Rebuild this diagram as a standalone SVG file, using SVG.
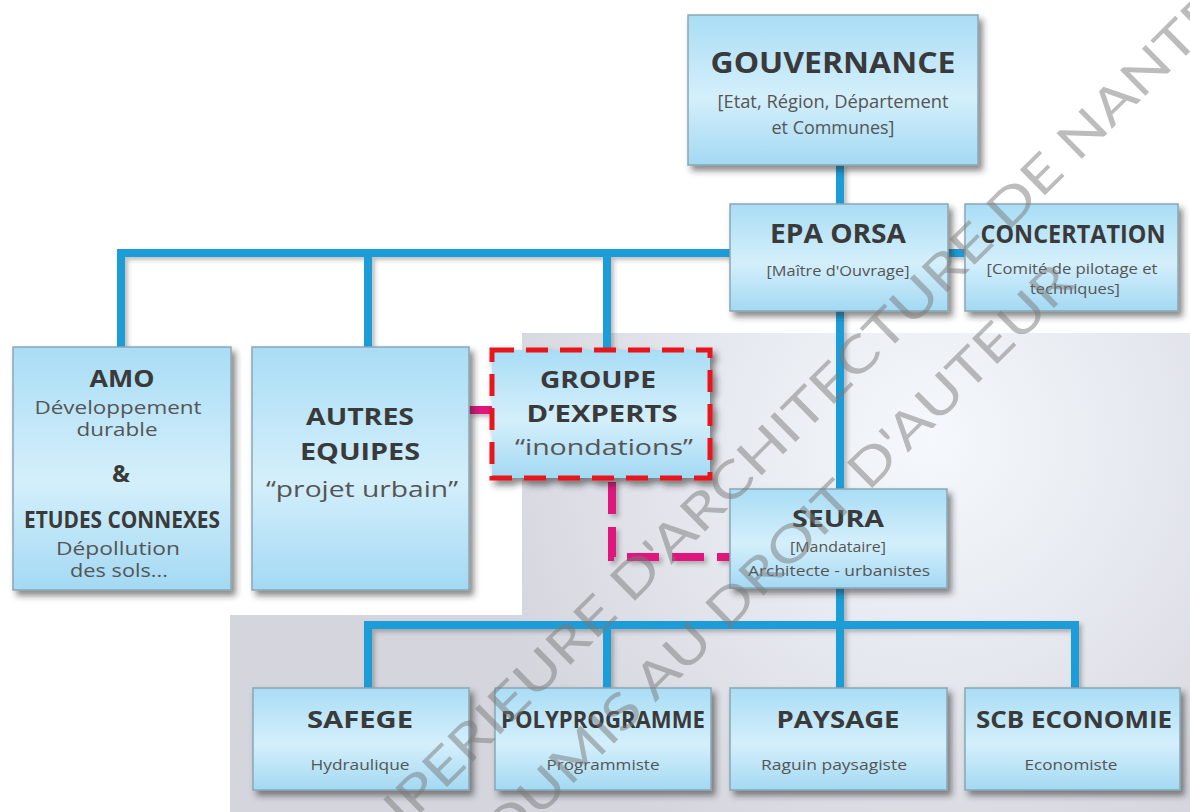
<svg xmlns="http://www.w3.org/2000/svg" width="1190" height="812" viewBox="0 0 1190 812">
<defs>
<linearGradient id="boxg" x1="0" y1="0" x2="0" y2="1">
<stop offset="0" stop-color="#a9ddf5"/>
<stop offset="0.55" stop-color="#d4effb"/>
<stop offset="1" stop-color="#a3d9f3"/>
</linearGradient>
<radialGradient id="bgg" gradientUnits="userSpaceOnUse" cx="930" cy="440" r="460">
<stop offset="0" stop-color="#f5f9fd"/>
<stop offset="0.5" stop-color="#e5e8ee"/>
<stop offset="1" stop-color="#d5d6dd"/>
</radialGradient>
<filter id="sh" x="-10%" y="-10%" width="130%" height="130%">
<feDropShadow dx="4" dy="5" stdDeviation="3" flood-color="#2a2a2a" flood-opacity="0.55"/>
</filter>
<filter id="lsh" x="-5%" y="-5%" width="110%" height="110%">
<feDropShadow dx="3" dy="3" stdDeviation="2" flood-color="#2a2a2a" flood-opacity="0.3"/>
</filter>
</defs>
<style>
.box{fill:url(#boxg);stroke:#8aa6b4;stroke-width:1.5;filter:url(#sh)}
.dash{fill:url(#boxg);stroke:#e8141c;stroke-width:5;stroke-dasharray:22 12;filter:url(#sh)}
.t{font-family:"Open Sans","DejaVu Sans",sans-serif;font-weight:bold;fill:#3a3a3a;text-anchor:middle}
.s{font-family:"Open Sans","DejaVu Sans",sans-serif;fill:#555;text-anchor:middle}
.blue{fill:none;stroke:#1c9dd8;stroke-width:8}
.mag{fill:none;stroke:#e0157f;stroke-width:8}
.wm{font-family:"Lato","Liberation Sans",sans-serif;font-weight:normal;fill:#7a7a7a;fill-opacity:0.5}
</style>
<rect width="1190" height="812" fill="#ffffff"/>
<path d="M522,333 H1190 V812 H230 V615 H522 Z" fill="url(#bgg)"/>

<g id="connectors" filter="url(#lsh)">
<path class="blue" d="M840,165 V204"/>
<path class="blue" d="M730,253 H121 V347 M368,253 V347 M607,253 V350"/>
<path class="blue" d="M948,253 H965"/>
<path class="blue" d="M840,311 V489"/>
<path class="blue" d="M840,588 V625 M368,688 V625 H1075 V688 M607,625 V688 M840,625 V688"/>
<path class="mag" d="M469,410 H492"/>
<path class="mag" d="M612,482 V557 H730" stroke-dasharray="32 13"/>
</g>

<g id="gouvernance">
<rect class="box" x="688" y="15" width="290" height="150"/>
<text class="t" x="833" y="73" font-size="29" textLength="245" lengthAdjust="spacingAndGlyphs">GOUVERNANCE</text>
<text class="s" x="833" y="108" font-size="18" textLength="231" lengthAdjust="spacingAndGlyphs">[Etat, Région, Département</text>
<text class="s" x="833" y="134" font-size="18" textLength="123" lengthAdjust="spacingAndGlyphs">et Communes]</text>
</g>

<g id="epa-orsa">
<rect class="box" x="730" y="204" width="218" height="107"/>
<text class="t" x="838" y="243" font-size="26" textLength="136" lengthAdjust="spacingAndGlyphs">EPA ORSA</text>
<text class="s" x="838" y="276" font-size="15" textLength="143" lengthAdjust="spacingAndGlyphs">[Maître d'Ouvrage]</text>
</g>

<g id="concertation">
<rect class="box" x="965" y="204" width="213" height="107"/>
<text class="t" x="1073" y="243" font-size="25" textLength="185" lengthAdjust="spacingAndGlyphs">CONCERTATION</text>
<text class="s" x="1072" y="274" font-size="15" textLength="171" lengthAdjust="spacingAndGlyphs">[Comité de pilotage et</text>
<text class="s" x="1075" y="294" font-size="15" textLength="90" lengthAdjust="spacingAndGlyphs">techniques]</text>
</g>

<g id="amo">
<rect class="box" x="13" y="347" width="218" height="243"/>
<text class="t" x="122" y="387" font-size="23" textLength="65" lengthAdjust="spacingAndGlyphs">AMO</text>
<text class="s" x="118" y="414" font-size="18" textLength="167" lengthAdjust="spacingAndGlyphs">Développement</text>
<text class="s" x="117" y="436" font-size="18" textLength="81" lengthAdjust="spacingAndGlyphs">durable</text>
<text class="t" x="121" y="482" font-size="24">&amp;</text>
<text class="t" x="122" y="528" font-size="23" textLength="196" lengthAdjust="spacingAndGlyphs">ETUDES CONNEXES</text>
<text class="s" x="118" y="555" font-size="18" textLength="124" lengthAdjust="spacingAndGlyphs">Dépollution</text>
<text class="s" x="119" y="577" font-size="18" textLength="98" lengthAdjust="spacingAndGlyphs">des sols...</text>
</g>

<g id="autres-equipes">
<rect class="box" x="252" y="347" width="217" height="243"/>
<text class="t" x="360" y="425" font-size="24" textLength="108" lengthAdjust="spacingAndGlyphs">AUTRES</text>
<text class="t" x="360" y="460" font-size="24" textLength="120" lengthAdjust="spacingAndGlyphs">EQUIPES</text>
<text class="s" x="362" y="497" font-size="22" textLength="192" lengthAdjust="spacingAndGlyphs">“projet urbain”</text>
</g>

<g id="groupe-experts">
<rect class="dash" x="492" y="350" width="218" height="128"/>
<text class="t" x="598" y="388" font-size="23" textLength="116" lengthAdjust="spacingAndGlyphs">GROUPE</text>
<text class="t" x="602" y="422" font-size="23" textLength="151" lengthAdjust="spacingAndGlyphs">D’EXPERTS</text>
<text class="s" x="604" y="455" font-size="22" textLength="178" lengthAdjust="spacingAndGlyphs">“inondations”</text>
</g>

<g id="seura">
<rect class="box" x="730" y="489" width="217" height="99"/>
<text class="t" x="838" y="527" font-size="24" textLength="92" lengthAdjust="spacingAndGlyphs">SEURA</text>
<text class="s" x="838" y="552" font-size="14" textLength="96" lengthAdjust="spacingAndGlyphs">[Mandataire]</text>
<text class="s" x="839" y="576" font-size="14" textLength="182" lengthAdjust="spacingAndGlyphs">Architecte - urbanistes</text>
</g>

<g id="safege">
<rect class="box" x="253" y="688" width="216" height="102"/>
<text class="t" x="360" y="728" font-size="24" textLength="106" lengthAdjust="spacingAndGlyphs">SAFEGE</text>
<text class="s" x="360" y="770" font-size="15" textLength="99" lengthAdjust="spacingAndGlyphs">Hydraulique</text>
</g>

<g id="polyprogramme">
<rect class="box" x="495" y="688" width="216" height="102"/>
<text class="t" x="603" y="728" font-size="23" textLength="204" lengthAdjust="spacingAndGlyphs">POLYPROGRAMME</text>
<text class="s" x="603" y="770" font-size="15" textLength="113" lengthAdjust="spacingAndGlyphs">Programmiste</text>
</g>

<g id="paysage">
<rect class="box" x="730" y="688" width="217" height="102"/>
<text class="t" x="838" y="728" font-size="24" textLength="123" lengthAdjust="spacingAndGlyphs">PAYSAGE</text>
<text class="s" x="834" y="770" font-size="15" textLength="146" lengthAdjust="spacingAndGlyphs">Raguin paysagiste</text>
</g>

<g id="scb-economie">
<rect class="box" x="965" y="688" width="215" height="102"/>
<text class="t" x="1074" y="728" font-size="24" textLength="196" lengthAdjust="spacingAndGlyphs">SCB ECONOMIE</text>
<text class="s" x="1071" y="770" font-size="15" textLength="93" lengthAdjust="spacingAndGlyphs">Economiste</text>
</g>

<g id="watermark">
<text class="wm" x="360" y="873" font-size="50" transform="rotate(-44.7 360 873)" textLength="1253" lengthAdjust="spacingAndGlyphs">SUPERIEURE D'ARCHITECTURE DE NANTES</text>
<text class="wm" x="480" y="876" font-size="50" transform="rotate(-44.7 480 876)" textLength="840" lengthAdjust="spacingAndGlyphs">SOUMIS AU DROIT D'AUTEUR</text>
</g>
</svg>
